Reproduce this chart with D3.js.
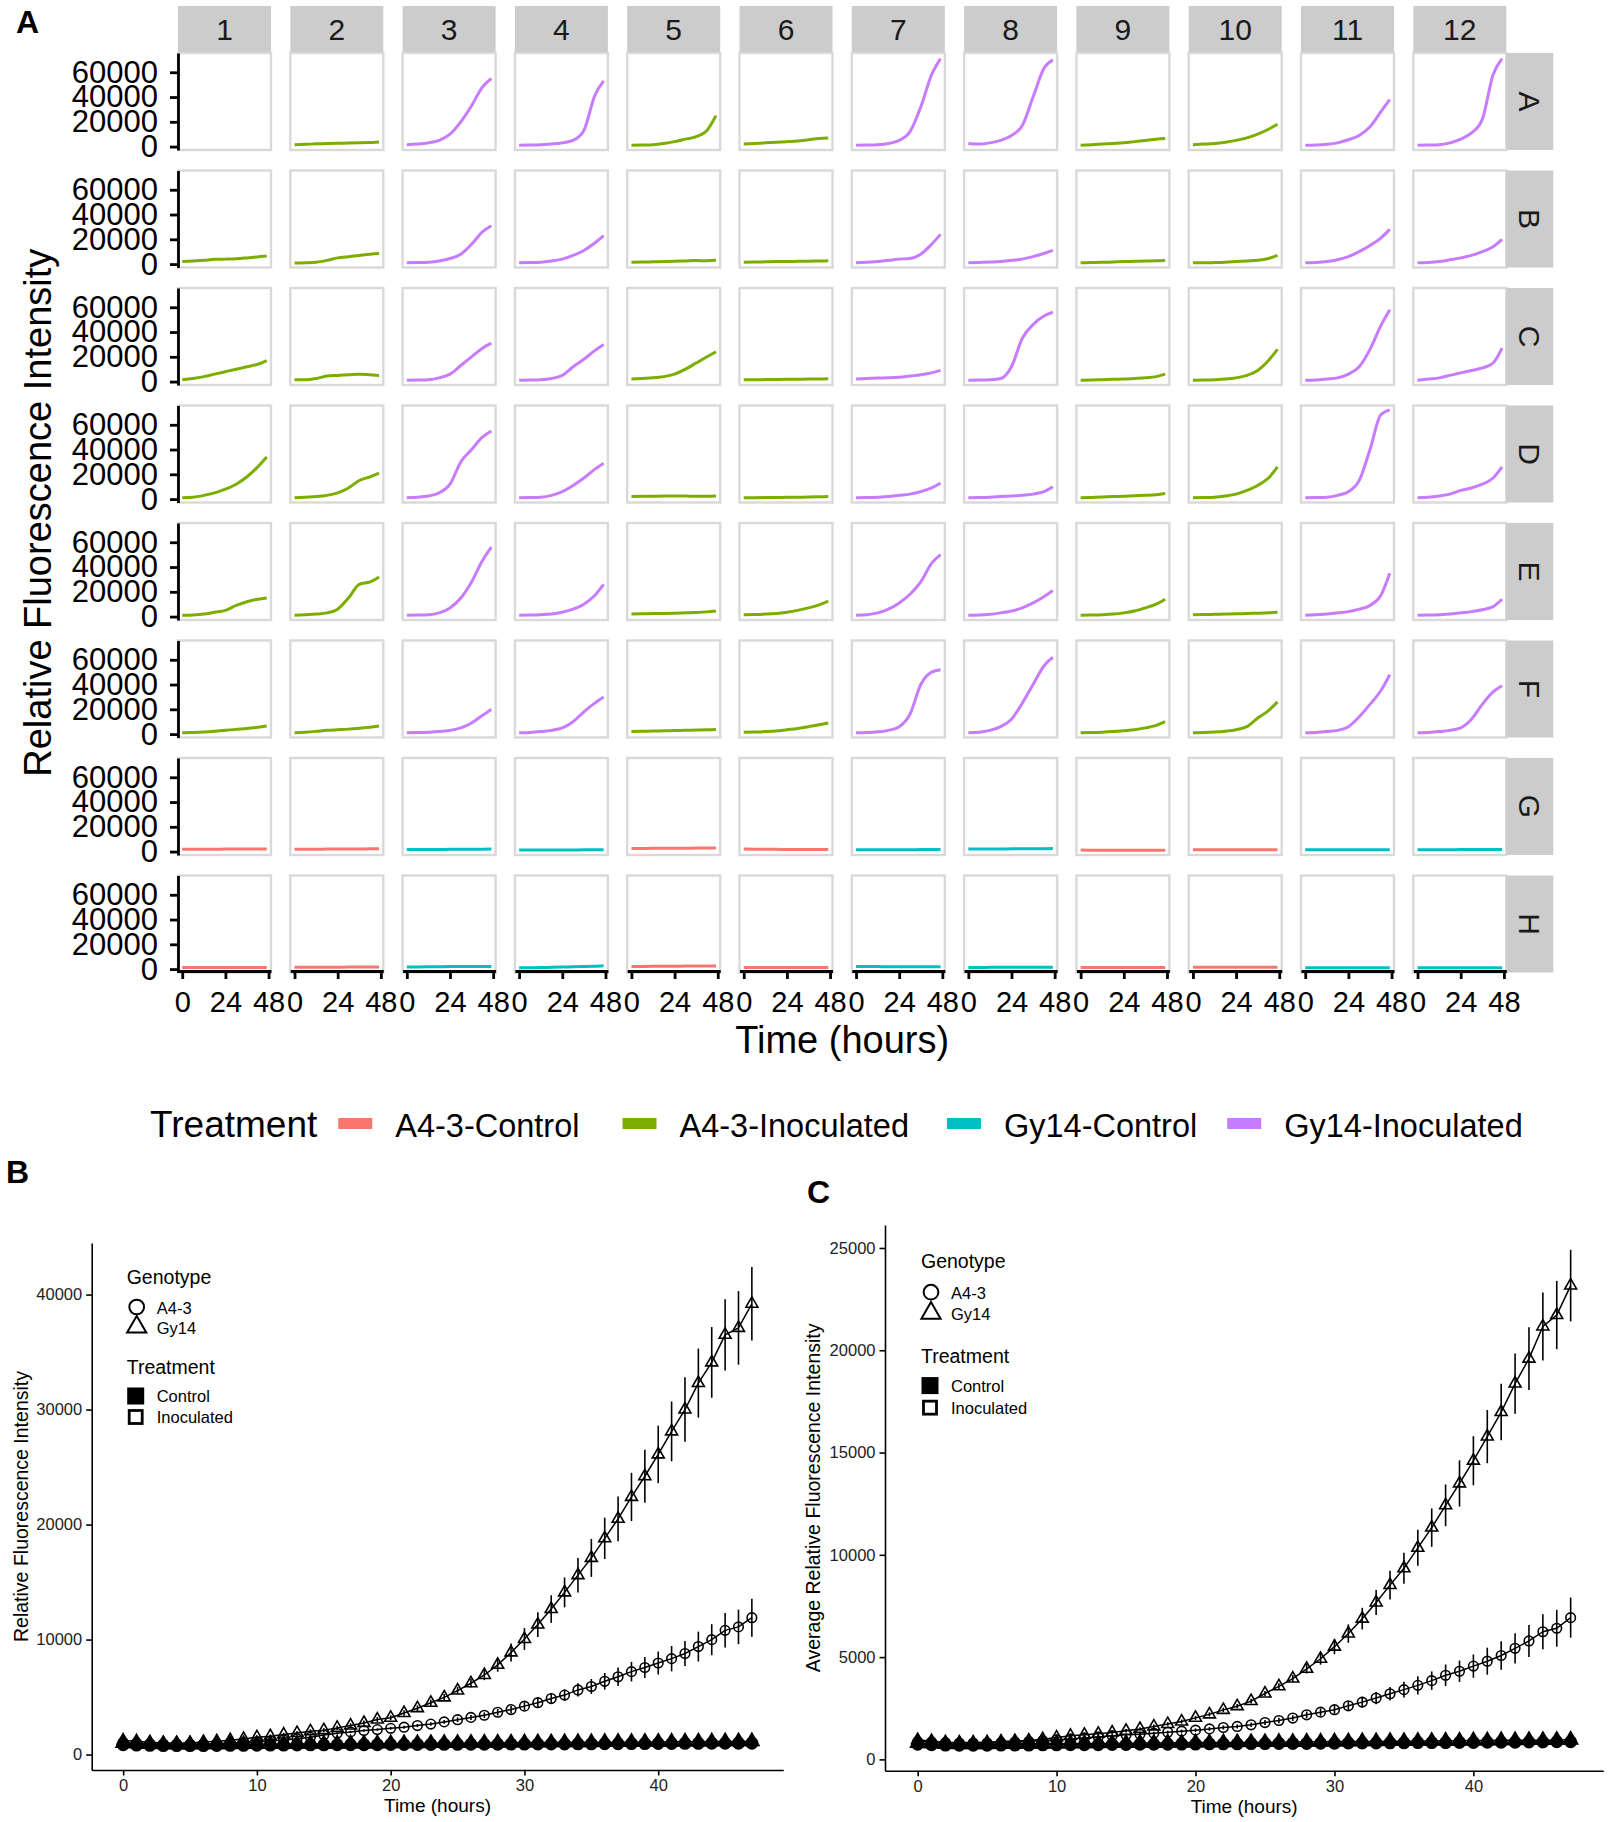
<!DOCTYPE html>
<html>
<head>
  <meta charset="utf-8">
  <title>Fluorescence time course: plate wells and averages</title>
  <script src="https://cdn.jsdelivr.net/npm/d3@7"></script>
  <style>
    body { margin: 0; background: #fff; }
    svg { display: block; font-family: "Liberation Sans", Arial, sans-serif; }
  </style>
</head>
<body>
  <div id="container"></div>

  <script>
    // ---------- panel A: 96-well plate, values in thousands at sampleHours ----------
    const sampleHours = [0, 6, 12, 18, 24, 30, 36, 42, 47];
    const plateRows = ["A", "B", "C", "D", "E", "F", "G", "H"];
    const plateCols = [1, 2, 3, 4, 5, 6, 7, 8, 9, 10, 11, 12];
    const colGenotype = ["A4-3", "A4-3", "Gy14", "Gy14", "A4-3", "A4-3", "Gy14", "Gy14", "A4-3", "A4-3", "Gy14", "Gy14"];
    const rowTreatment = ["Inoculated", "Inoculated", "Inoculated", "Inoculated", "Inoculated", "Inoculated", "Control", "Control"];

    const treatments = ["A4-3-Control", "A4-3-Inoculated", "Gy14-Control", "Gy14-Inoculated"];
    const treatmentColors = ["#F8766D", "#7CAE00", "#00BFC4", "#C77CFF"];

    const rowA = [
      null,
      [1.5, 1.8, 2.2, 2.4, 2.6, 2.8, 3.0, 3.3, 3.6],
      [1.5, 2, 3, 5, 10, 20, 33, 48, 55],
      [1, 1.2, 1.5, 2, 3, 5, 13, 41, 53],
      [1, 1.2, 1.5, 2.5, 4, 6, 8, 13, 25],
      [2, 2.5, 3, 3.5, 4, 4.5, 5.5, 6.5, 7],
      [1, 1.2, 1.5, 2.5, 5, 12, 32, 58, 71],
      [2.5, 2, 3, 5, 9, 17, 40, 63, 70],
      [1, 1.5, 2, 2.5, 3, 4, 5, 6, 6.5],
      [1.5, 2, 2.5, 3.5, 5, 7, 10, 14, 18],
      [1, 1.2, 1.8, 3, 5.5, 9, 16, 28, 38],
      [1, 1.2, 1.5, 3, 6, 11, 22, 58, 71]
    ];
    const rowB = [
      [2, 2.5, 3, 3.8, 4, 4.3, 5, 5.8, 6.5],
      [0.8, 1, 1.5, 3, 5, 6, 7, 8, 8.5],
      [1, 1.2, 1.5, 2.5, 4.5, 8, 16, 26, 31],
      [1, 1.2, 1.5, 2.5, 4, 7, 11, 17, 23],
      [1.5, 1.6, 1.8, 2, 2.2, 2.5, 2.8, 2.7, 3],
      [1.5, 1.6, 1.8, 2, 2, 2.2, 2.3, 2.5, 2.6],
      [1, 1.5, 2, 3, 4, 4.5, 8, 16, 24],
      [1, 1.3, 1.6, 2, 3, 4, 6, 8.5, 11],
      [1, 1.2, 1.4, 1.7, 2, 2.2, 2.4, 2.6, 2.8],
      [1, 1, 1.2, 1.5, 2, 2.5, 3, 4.5, 7],
      [1, 1.3, 2, 3.5, 6, 10, 15, 21, 28],
      [1, 1.3, 2, 3.5, 5, 7, 10, 14, 20]
    ];
    const rowC = [
      [1.5, 2.5, 4, 6, 8, 10, 12, 14, 17],
      [1.5, 1.5, 2.5, 4.5, 5, 5.5, 6, 5.5, 5],
      [1, 1.2, 1.5, 3, 6, 13, 20, 27, 31],
      [1, 1.2, 1.5, 2.5, 5, 12, 18, 25, 30],
      [2, 2.5, 3, 4, 6, 10, 15, 20, 24],
      [1.5, 1.5, 1.6, 1.7, 1.8, 1.9, 2, 2.1, 2.2],
      [2, 2.5, 2.8, 3, 3.5, 4.5, 5.5, 7, 9],
      [1, 1.2, 1.5, 2.5, 12, 35, 46, 53, 56],
      [1, 1.2, 1.5, 1.8, 2, 2.5, 3, 4, 6],
      [1, 1.2, 1.5, 2, 3, 5, 9, 17, 26],
      [1, 1.2, 2, 3, 6, 12, 26, 45, 58],
      [1, 2, 3, 5, 7, 9, 11, 15, 27]
    ];
    const rowD = [
      [1, 1.5, 3, 5, 8, 12, 18, 26, 34],
      [1, 1.5, 2, 3, 5, 9, 15, 18, 21],
      [1, 1.5, 2.5, 5, 12, 30, 40, 50, 55],
      [1, 1.2, 1.5, 3, 6, 11, 17, 24, 29],
      [2, 2.2, 2.3, 2.4, 2.4, 2.4, 2.3, 2.3, 2.5],
      [1, 1.1, 1.2, 1.3, 1.4, 1.5, 1.6, 1.8, 2],
      [1, 1.2, 1.5, 2, 3, 4, 6, 9, 13],
      [1, 1.2, 1.5, 2, 2.5, 3, 4, 6, 10],
      [1, 1.3, 1.6, 2, 2.3, 2.7, 3, 3.5, 4.5],
      [1, 1.2, 1.5, 2.5, 4, 7, 11, 17, 26],
      [1, 1.2, 1.5, 3, 6, 15, 40, 68, 72],
      [1, 1.5, 2.5, 4, 7, 9, 12, 17, 26]
    ];
    const rowE = [
      [1, 1.3, 2, 3.5, 5, 9, 12, 14, 15],
      [1, 1.5, 2, 3, 6, 15, 26, 28, 32],
      [1, 1.2, 1.5, 3, 7, 15, 28, 45, 56],
      [1, 1.2, 1.5, 2, 3.5, 6, 10, 17, 26],
      [2, 2.2, 2.4, 2.5, 2.7, 3, 3.3, 3.8, 4.5],
      [1.5, 1.7, 2, 2.5, 3.5, 5, 7, 9.5, 12.5],
      [1, 1.5, 3, 6, 11, 18, 28, 43, 50],
      [1, 1.2, 1.8, 3, 4.5, 7, 11, 16, 21],
      [1, 1.2, 1.5, 2, 3, 4.5, 7, 10, 14],
      [1.5, 1.6, 1.8, 2, 2.2, 2.5, 2.7, 3, 3.5],
      [1, 1.5, 2, 3, 4, 6, 9, 17, 35],
      [1, 1.2, 1.5, 2, 3, 4, 5.5, 8, 14]
    ];
    const rowF = [
      [1, 1.3, 1.7, 2.3, 3, 3.8, 4.5, 5.5, 6.5],
      [1, 1.5, 2.2, 3, 3.5, 4, 4.7, 5.5, 6.5],
      [1, 1.2, 1.5, 2, 3, 5, 9, 15, 20],
      [1, 1.3, 2, 3, 5, 10, 18, 25, 30],
      [2, 2.2, 2.4, 2.6, 2.8, 3, 3.2, 3.4, 3.6],
      [1.5, 1.7, 2, 2.5, 3.5, 4.5, 6, 7.5, 9],
      [1, 1.2, 1.8, 3, 6, 16, 40, 50, 52],
      [1, 1.5, 3, 6, 12, 25, 40, 55, 62],
      [1, 1.2, 1.5, 2, 2.7, 3.5, 5, 7, 10],
      [1, 1.2, 1.6, 2.3, 3.5, 6, 13, 19, 26],
      [1, 1.3, 2, 3, 6, 14, 24, 35, 48],
      [1, 1.3, 2, 3, 5, 12, 24, 34, 39]
    ];
    const rowG = [
      [1.8, 1.8, 1.9, 1.9, 2, 2, 2, 2.1, 2.1],
      [1.8, 1.9, 1.9, 2, 2, 2.1, 2.1, 2.2, 2.2],
      [1.6, 1.6, 1.7, 1.7, 1.8, 1.8, 1.9, 1.9, 2],
      [1.2, 1.2, 1.2, 1.3, 1.3, 1.3, 1.4, 1.4, 1.5],
      [2.5, 2.5, 2.6, 2.6, 2.7, 2.7, 2.8, 2.8, 2.9],
      [2, 1.9, 1.8, 1.8, 1.7, 1.7, 1.6, 1.6, 1.6],
      [1.5, 1.5, 1.5, 1.5, 1.5, 1.5, 1.6, 1.6, 1.6],
      [2, 2, 2.1, 2.1, 2.2, 2.2, 2.3, 2.3, 2.4],
      [1.2, 1.1, 1.1, 1, 1, 1, 1, 1, 1],
      [1.5, 1.5, 1.5, 1.5, 1.5, 1.5, 1.5, 1.5, 1.5],
      [1.5, 1.5, 1.5, 1.5, 1.5, 1.5, 1.5, 1.5, 1.5],
      [1.5, 1.5, 1.5, 1.5, 1.6, 1.6, 1.6, 1.7, 1.7]
    ];
    const rowH = [
      [1.2, 1.2, 1.2, 1.2, 1.2, 1.2, 1.2, 1.2, 1.2],
      [1.5, 1.5, 1.5, 1.5, 1.5, 1.6, 1.6, 1.6, 1.6],
      [1.6, 1.7, 1.8, 1.9, 2, 2, 2, 2.1, 2.1],
      [1, 1.1, 1.2, 1.4, 1.6, 1.8, 2, 2.3, 2.6],
      [2, 2.1, 2.2, 2.3, 2.3, 2.4, 2.4, 2.5, 2.5],
      [1.2, 1.2, 1.2, 1.2, 1.2, 1.2, 1.2, 1.2, 1.2],
      [2, 2, 2, 1.9, 1.9, 1.9, 1.8, 1.8, 1.8],
      [1.3, 1.3, 1.4, 1.4, 1.4, 1.4, 1.5, 1.5, 1.5],
      [1.2, 1.2, 1.2, 1.2, 1.2, 1.2, 1.2, 1.2, 1.2],
      [1.5, 1.5, 1.5, 1.5, 1.5, 1.5, 1.5, 1.5, 1.5],
      [1, 1, 1, 1, 1, 1, 1, 1, 1],
      [1, 1, 1, 1, 1, 1, 1, 1, 1]
    ];
    const plateData = [rowA, rowB, rowC, rowD, rowE, rowF, rowG, rowH];
    const plateYTicks = [0, 20000, 40000, 60000];
    const plateXTicks = [0, 24, 48];

    // ---------- panels B and C: hourly means (thousands) with error bars ----------
    const hours = [0, 1, 2, 3, 4, 5, 6, 7, 8, 9, 10, 11, 12, 13, 14, 15, 16, 17, 18, 19, 20, 21, 22, 23,
      24, 25, 26, 27, 28, 29, 30, 31, 32, 33, 34, 35, 36, 37, 38, 39, 40, 41, 42, 43, 44, 45, 46, 47];

    const bGy14Inoc = [1.22, 1.16, 1.07, 1.0, 1.0, 1.0, 1.1, 1.16, 1.25, 1.36,
      1.51, 1.6, 1.74, 1.88, 2.03, 2.12, 2.32, 2.52, 2.75, 3.04,
      3.2, 3.61, 4.03, 4.5, 4.97, 5.56, 6.2, 6.92, 7.8, 8.88,
      10.05, 11.3, 12.65, 14.1, 15.6, 17.1, 18.8, 20.5, 22.4, 24.2,
      26.1, 28.1, 30.0, 32.3, 34.1, 36.5, 37.1, 39.2];
    const bGy14InocErr = [0.15, 0.14, 0.12, 0.11, 0.1, 0.1, 0.1, 0.1, 0.11, 0.12,
      0.13, 0.14, 0.15, 0.16, 0.17, 0.18, 0.19, 0.2, 0.21, 0.22,
      0.22, 0.24, 0.25, 0.27, 0.3, 0.32, 0.37, 0.45, 0.6, 0.78,
      0.95, 1.08, 1.2, 1.3, 1.5, 1.65, 1.8, 1.95, 2.1, 2.3,
      2.5, 2.6, 2.8, 3.0, 3.07, 3.1, 3.2, 3.2];
    const bA43Inoc = [1.05, 1.0, 0.95, 0.92, 0.9, 0.9, 0.92, 0.95, 1.0, 1.05,
      1.1, 1.18, 1.27, 1.38, 1.5, 1.7, 1.85, 1.97, 2.09, 2.17,
      2.28, 2.38, 2.52, 2.65, 2.84, 3.03, 3.23, 3.42, 3.68, 3.91,
      4.21, 4.51, 4.87, 5.17, 5.62, 5.92, 6.37, 6.76, 7.21, 7.57,
      7.96, 8.34, 8.79, 9.39, 9.99, 10.8, 11.1, 11.9];
    const bA43InocErr = [0.06, 0.06, 0.06, 0.06, 0.06, 0.06, 0.06, 0.06, 0.06, 0.06,
      0.07, 0.07, 0.08, 0.08, 0.09, 0.09, 0.1, 0.1, 0.11, 0.11,
      0.12, 0.13, 0.14, 0.15, 0.17, 0.2, 0.22, 0.25, 0.28, 0.31,
      0.35, 0.4, 0.45, 0.5, 0.57, 0.65, 0.72, 0.8, 0.85, 0.92,
      1.0, 1.1, 1.08, 1.3, 1.35, 1.5, 1.5, 1.65];
    const bA43Ctrl = [0.85, 0.82, 0.8, 0.78, 0.78, 0.78, 0.78, 0.79, 0.8, 0.8,
      0.81, 0.82, 0.82, 0.83, 0.84, 0.84, 0.85, 0.85, 0.86, 0.86,
      0.87, 0.87, 0.88, 0.88, 0.89, 0.89, 0.9, 0.9, 0.9, 0.91,
      0.91, 0.92, 0.92, 0.92, 0.93, 0.93, 0.94, 0.94, 0.95, 0.95,
      0.96, 0.96, 0.97, 0.97, 0.98, 0.98, 0.99, 0.99];
    const bA43CtrlErr = hours.map(() => 0.04);
    const bGy14Ctrl = [1.0, 0.95, 0.9, 0.88, 0.87, 0.87, 0.88, 0.88, 0.89, 0.9,
      0.9, 0.91, 0.92, 0.92, 0.93, 0.94, 0.94, 0.95, 0.96, 0.96,
      0.97, 0.98, 0.98, 0.99, 1.0, 1.0, 1.01, 1.02, 1.02, 1.03,
      1.04, 1.04, 1.05, 1.06, 1.06, 1.07, 1.08, 1.08, 1.09, 1.1,
      1.1, 1.11, 1.12, 1.12, 1.13, 1.14, 1.14, 1.15];
    const bGy14CtrlErr = hours.map(() => 0.06);

    const cGy14Inoc = [0.95, 0.9, 0.84, 0.82, 0.82, 0.84, 0.87, 0.9, 0.92, 0.98,
      1.07, 1.15, 1.2, 1.25, 1.31, 1.4, 1.49, 1.61, 1.73, 1.85,
      2.03, 2.2, 2.42, 2.6, 2.85, 3.22, 3.57, 3.95, 4.43, 4.92,
      5.51, 6.15, 6.88, 7.67, 8.52, 9.34, 10.34, 11.33, 12.42, 13.49,
      14.6, 15.78, 16.98, 18.37, 19.59, 21.16, 21.72, 23.16];
    const cGy14InocErr = [0.06, 0.06, 0.05, 0.05, 0.05, 0.05, 0.05, 0.05, 0.06, 0.06,
      0.06, 0.07, 0.07, 0.07, 0.08, 0.08, 0.08, 0.09, 0.09, 0.1,
      0.1, 0.1, 0.11, 0.11, 0.12, 0.12, 0.15, 0.18, 0.23, 0.29,
      0.37, 0.45, 0.53, 0.61, 0.7, 0.76, 0.88, 0.94, 1.02, 1.13,
      1.2, 1.3, 1.38, 1.47, 1.53, 1.66, 1.67, 1.75];
    const cA43Inoc = [0.87, 0.85, 0.82, 0.8, 0.8, 0.8, 0.82, 0.85, 0.88, 0.92,
      0.96, 1.0, 1.05, 1.1, 1.16, 1.2, 1.23, 1.28, 1.33, 1.38,
      1.43, 1.49, 1.56, 1.61, 1.69, 1.8, 1.9, 2.02, 2.18, 2.31,
      2.43, 2.62, 2.8, 3.0, 3.21, 3.41, 3.62, 3.85, 4.11, 4.31,
      4.56, 4.8, 5.08, 5.43, 5.79, 6.24, 6.41, 6.93];
    const cA43InocErr = [0.04, 0.04, 0.04, 0.04, 0.04, 0.04, 0.04, 0.04, 0.04, 0.04,
      0.05, 0.05, 0.05, 0.06, 0.06, 0.06, 0.07, 0.07, 0.08, 0.08,
      0.09, 0.09, 0.1, 0.1, 0.11, 0.12, 0.13, 0.14, 0.16, 0.18,
      0.2, 0.23, 0.26, 0.3, 0.33, 0.38, 0.45, 0.45, 0.53, 0.52,
      0.57, 0.66, 0.7, 0.74, 0.78, 0.86, 0.9, 0.98];
    const cA43Ctrl = [0.74, 0.72, 0.7, 0.69, 0.69, 0.69, 0.7, 0.7, 0.7, 0.71,
      0.71, 0.72, 0.72, 0.72, 0.73, 0.73, 0.74, 0.74, 0.74, 0.75,
      0.75, 0.76, 0.76, 0.76, 0.77, 0.77, 0.78, 0.78, 0.78, 0.79,
      0.79, 0.8, 0.8, 0.8, 0.81, 0.81, 0.82, 0.82, 0.82, 0.83,
      0.83, 0.84, 0.84, 0.84, 0.85, 0.85, 0.86, 0.86];
    const cA43CtrlErr = hours.map(() => 0.03);
    const cGy14Ctrl = [0.8, 0.77, 0.75, 0.74, 0.74, 0.74, 0.75, 0.75, 0.76, 0.76,
      0.77, 0.77, 0.78, 0.78, 0.79, 0.79, 0.8, 0.8, 0.81, 0.81,
      0.82, 0.82, 0.83, 0.83, 0.84, 0.84, 0.85, 0.85, 0.86, 0.86,
      0.87, 0.87, 0.88, 0.88, 0.89, 0.89, 0.9, 0.9, 0.91, 0.91,
      0.92, 0.92, 0.93, 0.93, 0.94, 0.94, 0.95, 0.96];
    const cGy14CtrlErr = hours.map(() => 0.04);

    const bYTicks = [0, 10000, 20000, 30000, 40000];
    const cYTicks = [0, 5000, 10000, 15000, 20000, 25000];
    const summaryXTicks = [0, 10, 20, 30, 40];

    // ---------- setup ----------
    const svg = d3.select("#container").append("svg")
      .attr("width", 1608)
      .attr("height", 1822);
    svg.append("rect").attr("width", 1608).attr("height", 1822).attr("fill", "#fff");

    const color = d3.scaleOrdinal().domain(treatments).range(treatmentColors);

    function styleAxis(g, size, fill, stroke) {
      g.attr("font-family", null).attr("font-size", size);
      g.selectAll("text").attr("fill", fill);
      g.selectAll("line, path").attr("stroke", "#000").attr("stroke-width", stroke);
    }

    // ---------- panel A ----------
    const colX = d3.scaleBand().domain(plateCols).range([178, 1506.3]).paddingInner(0.172);
    const rowY = d3.scaleBand().domain(plateRows).range([53, 972.5]).paddingInner(0.1745);
    const pw = colX.bandwidth();
    const ph = rowY.bandwidth();

    const plateVals = plateData.flat().filter(w => w).flat().map(v => v * 1000);
    const [pMin, pMax] = d3.extent(plateVals);
    const pPad = (pMax - pMin) * 0.05;
    const yA = d3.scaleLinear().domain([pMin - pPad, pMax + pPad]).range([ph, 0]);
    const hPad = (d3.max(sampleHours) - d3.min(sampleHours)) * 0.05;
    const xA = d3.scaleLinear().domain([d3.min(sampleHours) - hPad, d3.max(sampleHours) + hPad]).range([0, pw]);

    const plateLine = d3.line()
      .x((d, i) => xA(sampleHours[i]))
      .y(d => yA(d * 1000))
      .curve(d3.curveMonotoneX);

    const plate = svg.append("g");

    plateRows.forEach((r, ri) => {
      plateCols.forEach((c, ci) => {
        const cell = plate.append("g").attr("transform", `translate(${colX(c)},${rowY(r)})`);
        cell.append("rect").attr("width", pw).attr("height", ph).attr("fill", "#fff");
        const well = plateData[ri][ci];
        if (well) {
          cell.append("path")
            .datum(well)
            .attr("fill", "none")
            .attr("stroke", color(`${colGenotype[ci]}-${rowTreatment[ri]}`))
            .attr("stroke-width", 3)
            .attr("stroke-linejoin", "round")
            .attr("d", plateLine);
        }
        cell.append("rect").attr("width", pw).attr("height", ph)
          .attr("fill", "none").attr("stroke", "#D9D9D9").attr("stroke-width", 2.4);
      });
    });

    // column strips
    plateCols.forEach(c => {
      plate.append("rect").attr("x", colX(c)).attr("y", 6).attr("width", pw).attr("height", 46).attr("fill", "#CCCCCC");
      plate.append("text").attr("x", colX(c) + pw / 2).attr("y", 40)
        .attr("text-anchor", "middle").attr("font-size", 30).attr("fill", "#1A1A1A").text(c);
    });
    // row strips
    const stripX = colX(12) + pw;
    plateRows.forEach(r => {
      plate.append("rect").attr("x", stripX).attr("y", rowY(r)).attr("width", 47).attr("height", ph).attr("fill", "#CCCCCC");
      plate.append("text")
        .attr("transform", `translate(${stripX + 23.5},${rowY(r) + ph / 2}) rotate(90)`)
        .attr("text-anchor", "middle").attr("dy", "0.36em")
        .attr("font-size", 30).attr("fill", "#1A1A1A").text(r);
    });

    // y axes for every row
    plateRows.forEach(r => {
      plate.append("g")
        .attr("transform", `translate(${colX(1)},${rowY(r)})`)
        .call(d3.axisLeft(yA).tickValues(plateYTicks).tickFormat(d3.format("d")).tickSize(8).tickSizeOuter(0).tickPadding(12))
        .call(g => styleAxis(g, 31, "#000", 2.8));
    });
    // x axes for bottom row
    plateCols.forEach(c => {
      plate.append("g")
        .attr("transform", `translate(${colX(c)},${rowY("H") + ph - 1.5})`)
        .call(d3.axisBottom(xA).tickValues(plateXTicks).tickSize(8).tickSizeOuter(0).tickPadding(12))
        .call(g => styleAxis(g, 29, "#000", 2.8));
    });

    plate.append("text")
      .attr("transform", `translate(37,${rowY("A") + (rowY("H") + ph - rowY("A")) / 2}) rotate(-90)`)
      .attr("text-anchor", "middle").attr("dy", "0.36em").attr("font-size", 38)
      .text("Relative Fluorescence Intensity");
    plate.append("text")
      .attr("x", colX(1) + (stripX - colX(1)) / 2).attr("y", 1053)
      .attr("text-anchor", "middle").attr("font-size", 38)
      .text("Time (hours)");

    // treatment legend, laid out left to right
    const legA = svg.append("g");
    const legendGaps = [43, 38, 30, 0];
    let lx = 150;
    const legTitle = legA.append("text").attr("x", lx).attr("y", 1137).attr("font-size", 37).text("Treatment");
    lx += legTitle.node().getComputedTextLength() + 21;
    treatments.forEach((t, i) => {
      legA.append("rect").attr("x", lx).attr("y", 1118).attr("width", 34).attr("height", 11).attr("fill", color(t));
      lx += 34 + 23;
      const lt = legA.append("text").attr("x", lx).attr("y", 1137).attr("font-size", 32.5).text(t);
      lx += lt.node().getComputedTextLength() + legendGaps[i];
    });

    // panel letters
    const letters = [["A", 16, 33], ["B", 6, 1183], ["C", 807, 1203]];
    letters.forEach(([l, x, y]) => {
      svg.append("text").attr("x", x).attr("y", y).attr("font-size", 32).attr("font-weight", "bold").text(l);
    });

    // ---------- panels B and C ----------
    function makeSeries(a43c, a43cE, a43i, a43iE, gyc, gycE, gyi, gyiE) {
      return [
        { genotype: "A4-3", treatment: "Control", values: a43c, err: a43cE },
        { genotype: "Gy14", treatment: "Control", values: gyc, err: gycE },
        { genotype: "A4-3", treatment: "Inoculated", values: a43i, err: a43iE },
        { genotype: "Gy14", treatment: "Inoculated", values: gyi, err: gyiE }
      ];
    }

    const shapeType = g => g === "A4-3" ? d3.symbolCircle : d3.symbolTriangle;

    function drawSummary(cfg) {
      const g = svg.append("g");
      const tp = (d3.max(hours) - d3.min(hours)) * 0.05;
      const x = d3.scaleLinear().domain([d3.min(hours) - tp, d3.max(hours) + tp]).range([cfg.left, cfg.right]);
      const lows = cfg.series.flatMap(s => s.values.map((v, i) => (v - s.err[i]) * 1000));
      const highs = cfg.series.flatMap(s => s.values.map((v, i) => (v + s.err[i]) * 1000));
      const lo = d3.min(lows), hi = d3.max(highs), p = (hi - lo) * 0.05;
      const y = d3.scaleLinear().domain([lo - p, hi + p]).range([cfg.bottom, cfg.top]);

      const line = d3.line().x((d, i) => x(hours[i])).y(d => y(d * 1000));

      cfg.series.forEach(s => {
        const pts = s.values.map((v, i) => ({ t: hours[i], v: v * 1000, e: s.err[i] * 1000 }));
        g.append("g").selectAll("line").data(pts).join("line")
          .attr("x1", d => x(d.t)).attr("x2", d => x(d.t))
          .attr("y1", d => y(d.v - d.e)).attr("y2", d => y(d.v + d.e))
          .attr("stroke", "#000").attr("stroke-width", 1.6);
        g.append("path").datum(s.values)
          .attr("fill", "none").attr("stroke", "#000").attr("stroke-width", 1.5)
          .attr("d", line);
        const filled = s.treatment === "Control";
        const size = s.genotype === "A4-3" ? 72 : 62;
        g.append("g").selectAll("path").data(pts).join("path")
          .attr("transform", d => `translate(${x(d.t)},${y(d.v)})`)
          .attr("d", d3.symbol().type(shapeType(s.genotype)).size(filled ? size * 1.4 : size))
          .attr("fill", filled ? "#000" : "none")
          .attr("stroke", "#000").attr("stroke-width", 1.6);
      });

      g.append("g").attr("transform", `translate(${cfg.left},0)`)
        .call(d3.axisLeft(y).tickValues(cfg.yTicks).tickFormat(d3.format("d")).tickSize(5.5).tickSizeOuter(0).tickPadding(4))
        .call(a => styleAxis(a, 16.5, "#222", 1.6));
      g.append("g").attr("transform", `translate(0,${cfg.bottom})`)
        .call(d3.axisBottom(x).tickValues(summaryXTicks).tickSize(5.5).tickSizeOuter(0).tickPadding(4))
        .call(a => styleAxis(a, 16.5, "#222", 1.6));

      g.append("text").attr("x", (cfg.left + cfg.right) / 2).attr("y", cfg.bottom + 42)
        .attr("text-anchor", "middle").attr("font-size", 19).text("Time (hours)");
      g.append("text")
        .attr("transform", `translate(${cfg.yTitleX},${(cfg.top + cfg.bottom) / 2}) rotate(-90)`)
        .attr("text-anchor", "middle").attr("dy", "0.36em").attr("font-size", 19.5)
        .text(cfg.yTitle);

      // shape legend
      const k = cfg.legendScale;
      const lg = g.append("g").attr("transform", `translate(${cfg.left + cfg.legendDx},${cfg.top + cfg.legendDy})`);
      lg.append("text").attr("font-size", 19.5).text("Genotype");
      [["A4-3", 23], ["Gy14", 43]].forEach(([gt, dy]) => {
        lg.append("path").attr("transform", `translate(10,${dy * k})`)
          .attr("d", d3.symbol().type(shapeType(gt)).size(gt === "A4-3" ? 170 : 160))
          .attr("fill", "none").attr("stroke", "#000").attr("stroke-width", 2);
        lg.append("text").attr("x", 30).attr("y", dy * k + 6.5).attr("font-size", 16.5).text(gt);
      });
      lg.append("text").attr("y", 90 * k).attr("font-size", 19.5).text("Treatment");
      [["Control", 112, true], ["Inoculated", 133, false]].forEach(([tr, dy, filled]) => {
        lg.append("rect").attr("x", filled ? 1.5 : 2.5).attr("y", dy * k - (filled ? 7.5 : 6.5))
          .attr("width", filled ? 15 : 13).attr("height", filled ? 15 : 13)
          .attr("fill", filled ? "#000" : "none").attr("stroke", "#000").attr("stroke-width", filled ? 2 : 2.8);
        lg.append("text").attr("x", 30).attr("y", dy * k + 6).attr("font-size", 16.5).text(tr);
      });
    }

    drawSummary({
      left: 91.7, right: 783.3, top: 1243, bottom: 1770,
      yTicks: bYTicks, yTitle: "Relative Fluorescence Intensity", yTitleX: 21,
      legendDx: 35, legendDy: 41, legendScale: 1,
      series: makeSeries(bA43Ctrl, bA43CtrlErr, bA43Inoc, bA43InocErr, bGy14Ctrl, bGy14CtrlErr, bGy14Inoc, bGy14InocErr)
    });
    drawSummary({
      left: 885, right: 1603.3, top: 1225, bottom: 1770.7,
      yTicks: cYTicks, yTitle: "Average Relative Fluorescence Intensity", yTitleX: 813,
      legendDx: 36, legendDy: 43, legendScale: 1.05,
      series: makeSeries(cA43Ctrl, cA43CtrlErr, cA43Inoc, cA43InocErr, cGy14Ctrl, cGy14CtrlErr, cGy14Inoc, cGy14InocErr)
    });
  </script>
</body>
</html>
